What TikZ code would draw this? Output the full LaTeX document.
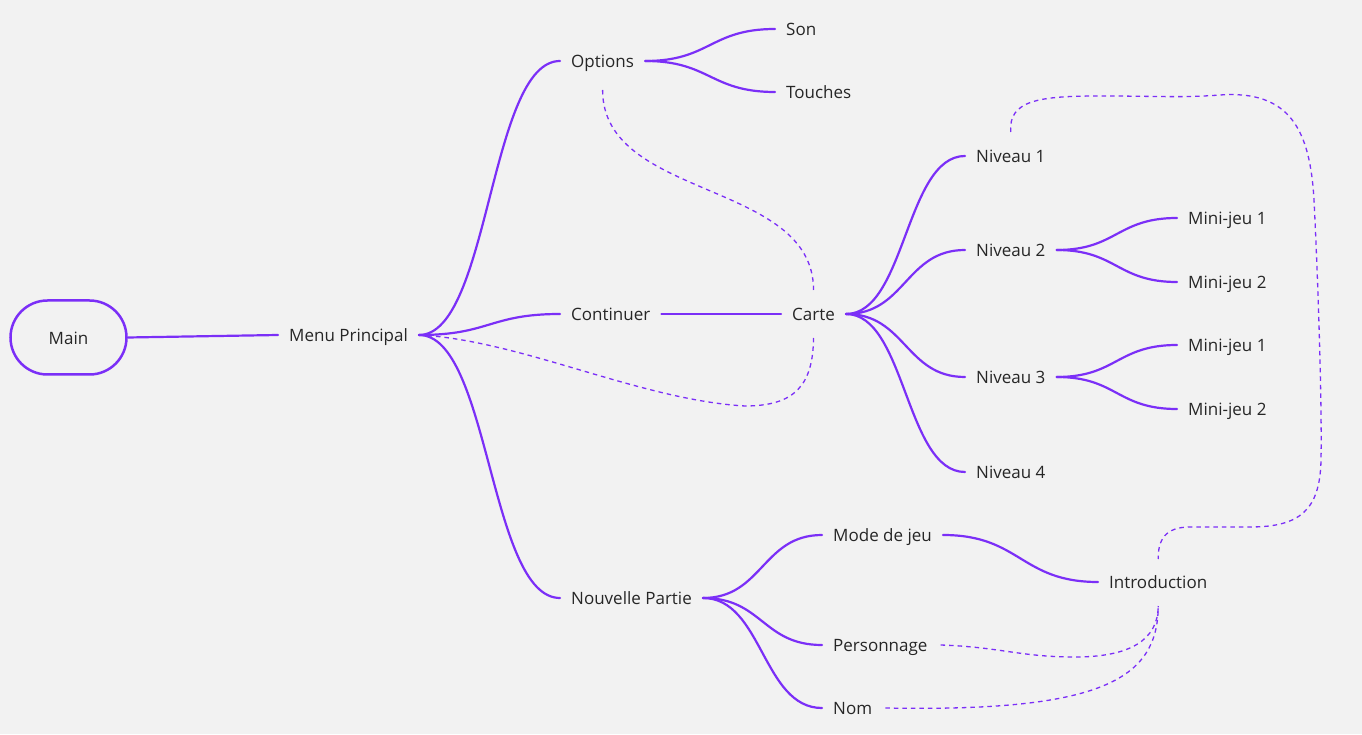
\documentclass[tikz,border=0pt]{standalone}
\usepackage{fontspec}
\setmainfont{Open Sans}
\usetikzlibrary{calc}
\definecolor{pur}{HTML}{7B2FF7}
\definecolor{bg}{HTML}{F2F2F2}
\definecolor{txt}{HTML}{262626}
\begin{document}
\begin{tikzpicture}[x=1pt,y=1pt,
  lbl/.style={inner xsep=11pt, inner ysep=0pt, text height=13.6pt, text depth=0pt,
    font=\fontsize{17}{20}\selectfont, text=txt, anchor=west},
  br/.style={to path={let \p1=(\tikztostart),\p2=(\tikztotarget),\n1={0.5*\x1+0.5*\x2} in
    .. controls (\n1,\y1) and (\n1,\y2) .. (\tikztotarget)}},
  conn/.style={draw=pur, line width=2.2pt, line cap=round},
  dsh/.style={draw=pur, line width=1.3pt, dash pattern=on 4.5pt off 4pt}
]
\useasboundingbox[fill=bg] (0,0) rectangle (1362,734);

\node[draw=pur, line width=2.5pt, minimum width=116pt, minimum height=74pt,
  rounded corners=37pt, text=txt, font=\fontsize{17}{20}\selectfont,
  text height=13.6pt, text depth=0pt] (main) at (68.5,396.5) {Main};
\node[lbl] (mp) at (278,399) {Menu Principal};
\node[lbl] (opt) at (560,673) {Options};
\node[lbl] (son) at (775,705) {Son};
\node[lbl] (tou) at (775,642) {Touches};
\node[lbl] (cont) at (560,420) {Continuer};
\node[lbl] (carte) at (781,420) {Carte};
\node[lbl] (n1) at (965,578) {Niveau 1};
\node[lbl] (n2) at (965,484) {Niveau 2};
\node[lbl] (m21) at (1177,516) {Mini-jeu 1};
\node[lbl] (m22) at (1177,452) {Mini-jeu 2};
\node[lbl] (n3) at (965,357) {Niveau 3};
\node[lbl] (m31) at (1177,389) {Mini-jeu 1};
\node[lbl] (m32) at (1177,325) {Mini-jeu 2};
\node[lbl] (n4) at (965,262) {Niveau 4};
\node[lbl] (np) at (560,136) {Nouvelle Partie};
\node[lbl] (mode) at (822,199) {Mode de jeu};
\node[lbl] (perso) at (822,89) {Personnage};
\node[lbl] (nom) at (822,26) {Nom};
\node[lbl] (intro) at (1098,152) {Introduction};

% solid connectors
\draw[conn] (main.east) -- (mp.west);
\draw[conn] (mp.east) to[br] (opt.west);
\draw[conn] (mp.east) to[br] (cont.west);
\draw[conn] (mp.east) to[br] (np.west);
\draw[conn] (opt.east) to[br] (son.west);
\draw[conn] (opt.east) to[br] (tou.west);
\draw[conn] (cont.east) -- (carte.west);
\draw[conn] (carte.east) to[br] (n1.west);
\draw[conn] (carte.east) to[br] (n2.west);
\draw[conn] (carte.east) to[br] (n3.west);
\draw[conn] (carte.east) to[br] (n4.west);
\draw[conn] (n2.east) to[br] (m21.west);
\draw[conn] (n2.east) to[br] (m22.west);
\draw[conn] (n3.east) to[br] (m31.west);
\draw[conn] (n3.east) to[br] (m32.west);
\draw[conn] (np.east) to[br] (mode.west);
\draw[conn] (np.east) to[br] (perso.west);
\draw[conn] (np.east) to[br] (nom.west);
\draw[conn] (mode.east) to[br] (intro.west);

% dashed connectors
\draw[dsh] ($(opt.center)+(0,-29)$) .. controls +(0,-110) and +(0,110) .. ($(carte.center)+(0,24)$);
\draw[dsh] (mp.east) .. controls (520,394) and (640,334) .. (745,328)
  .. controls (795,328) and (813,349) .. ($(carte.center)+(0,-24)$);
\draw[dsh] ($(n1.center)+(0,24)$) .. controls (1008,634) and (1040,638) .. (1100,638)
  .. controls (1160,638) and (1180,636) .. (1220,639)
  .. controls (1290,644) and (1310,604) .. (1314,534)
  .. controls (1318,454) and (1322,334) .. (1321,274)
  .. controls (1320,224) and (1300,207) .. (1250,207)
  -- (1190,207)
  .. controls (1165,207) and (1158,194) .. ($(intro.center)+(0,23)$);
\draw[dsh] ($(perso.east)+(2,0)$) .. controls (1000,87) and (1020,77) .. (1075,77)
  .. controls (1130,77) and (1158,94) .. ($(intro.center)+(0,-24)$);
\draw[dsh] ($(nom.east)+(2,0)$) .. controls (1100,22) and (1158,54) .. ($(intro.center)+(0,-24)$);
\end{tikzpicture}
\end{document}
